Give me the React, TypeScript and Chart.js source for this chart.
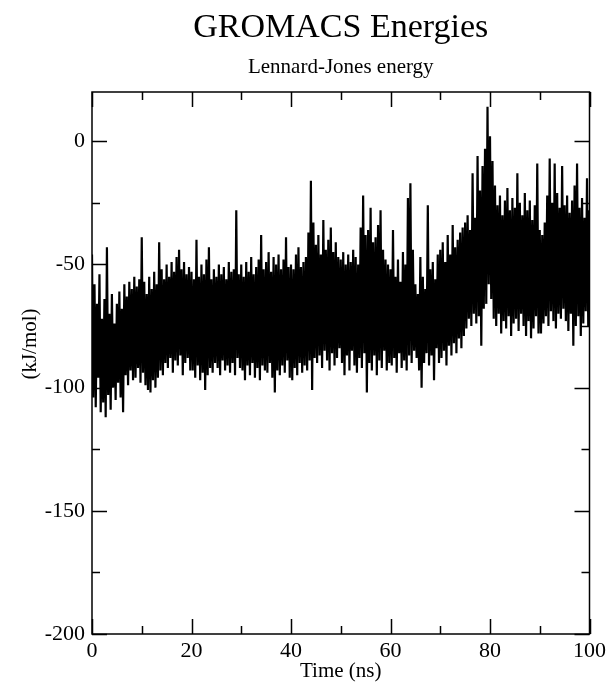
import React, { useEffect, useRef } from "react";
import { Chart, registerables } from "chart.js";

Chart.register(...registerables);

const energy0to20 = [
  -46, -104, -58, -108, -66, -96, -54, -110, -72, -106, -64, -112, -43, -103, -70, -109, -62, -100, -74, -105,
  -66, -98, -61, -104, -68, -110, -58, -95, -63, -99, -57, -93, -60, -97, -55, -96, -59, -92, -56, -98,
  -39, -94, -57, -99, -62, -101, -55, -102, -60, -97, -53, -100, -58, -96, -41, -93, -52, -95, -56, -90,
  -50, -92, -55, -88, -49, -94, -53, -89, -47, -91, -44, -87, -52, -95, -49, -90, -54, -88, -51, -93,
];
const energy20to40 = [
  -53, -93, -56, -96, -40, -91, -55, -97, -50, -94, -54, -101, -48, -95, -43, -92, -56, -94, -52, -90,
  -55, -92, -50, -95, -54, -89, -51, -93, -56, -91, -49, -94, -53, -90, -52, -95, -28, -88, -54, -92,
  -50, -93, -55, -97, -49, -91, -53, -95, -47, -90, -54, -96, -51, -92, -48, -97, -38, -91, -52, -93,
  -49, -94, -45, -90, -53, -96, -47, -102, -50, -93, -46, -95, -52, -91, -48, -94, -39, -89, -51, -96,
];
const energy40to60 = [
  -50, -97, -52, -92, -46, -95, -43, -90, -51, -94, -49, -91, -47, -93, -37, -89, -16, -101, -33, -88,
  -42, -90, -38, -87, -46, -92, -32, -85, -44, -89, -40, -93, -35, -86, -45, -91, -41, -88, -47, -84,
  -48, -90, -45, -95, -50, -87, -46, -93, -49, -85, -44, -91, -47, -94, -50, -88, -35, -92, -22, -86,
  -38, -102, -36, -90, -27, -93, -41, -87, -39, -95, -34, -89, -28, -92, -44, -85, -48, -93, -50, -90,
];
const energy60to80 = [
  -52, -91, -36, -88, -55, -94, -48, -86, -57, -92, -45, -89, -50, -93, -23, -87, -17, -90, -44, -85,
  -58, -88, -62, -93, -47, -100, -55, -90, -60, -86, -26, -91, -52, -87, -49, -97, -56, -84, -46, -90,
  -44, -88, -41, -85, -49, -91, -38, -83, -46, -87, -34, -82, -43, -86, -40, -80, -37, -84, -35, -79,
  -33, -76, -30, -72, -36, -75, -13, -70, -31, -74, -6, -71, -20, -83, -10, -68, -3, -66, 14, -58,
];
const energy80to100 = [
  2, -64, -8, -72, -18, -75, -26, -70, -22, -78, -30, -73, -24, -76, -19, -71, -28, -79, -23, -74,
  -27, -72, -13, -77, -25, -70, -30, -75, -21, -79, -28, -73, -24, -80, -32, -76, -26, -71, -9, -78,
  -36, -78, -38, -74, -33, -71, -22, -75, -7, -69, -25, -73, -9, -76, -21, -70, -27, -72, -10, -68,
  -26, -73, -22, -77, -29, -70, -24, -83, -18, -75, -9, -71, -27, -79, -23, -74, -31, -69, -15, -75, -28,
];

const timeStepNs = 0.25;

const xMajorTicks = [0, 20, 40, 60, 80, 100];
const xMinorTicks = [10, 30, 50, 70, 90];
const yMajorTicks = [-200, -150, -100, -50, 0];
const yMinorTicks = [-175, -125, -75, -25];

const titleText = "GROMACS Energies";
const subtitleText = "Lennard-Jones energy";
const xTitle = "Time (ns)";
const yTitle = "(kJ/mol)";

const FONT = "'Liberation Serif', 'Times New Roman', serif";

const frameTicksPlugin = {
  id: "frameTicks",
  afterDatasetsDraw(chart: any) {
    const { ctx, chartArea, scales } = chart;
    const { left, right, top, bottom } = chartArea;
    const x = scales.x;
    const y = scales.y;
    ctx.save();
    ctx.strokeStyle = "#000";
    ctx.lineWidth = 1.5;
    ctx.strokeRect(left, top, right - left, bottom - top);
    ctx.beginPath();
    const xt = (vals: number[], len: number) => {
      for (const v of vals) {
        const px = Math.round(x.getPixelForValue(v)) + 0.5;
        ctx.moveTo(px, bottom);
        ctx.lineTo(px, bottom - len);
        ctx.moveTo(px, top);
        ctx.lineTo(px, top + len);
      }
    };
    const yt = (vals: number[], len: number) => {
      for (const v of vals) {
        const py = Math.round(y.getPixelForValue(v)) + 0.5;
        ctx.moveTo(left, py);
        ctx.lineTo(left + len, py);
        ctx.moveTo(right, py);
        ctx.lineTo(right - len, py);
      }
    };
    xt(xMajorTicks, 15);
    xt(xMinorTicks, 8);
    yt(yMajorTicks, 15);
    yt(yMinorTicks, 8);
    ctx.stroke();
    ctx.restore();
  },
  afterDraw(chart: any) {
    const { ctx } = chart;
    ctx.save();
    ctx.fillStyle = "#000";
    ctx.font = `21px ${FONT}`;
    ctx.textAlign = "center";
    ctx.textBaseline = "middle";
    ctx.translate(30, 344);
    ctx.rotate(-Math.PI / 2);
    ctx.fillText(yTitle, 0, 0);
    ctx.restore();
  },
};

export default function App() {
  const canvasRef = useRef<HTMLCanvasElement | null>(null);

  useEffect(() => {
    const canvas = canvasRef.current;
    if (!canvas) return;
    const values = [
      ...energy0to20,
      ...energy20to40,
      ...energy40to60,
      ...energy60to80,
      ...energy80to100,
    ];
    const points = values.map((v, i) => ({ x: i * timeStepNs, y: v }));

    const chart = new Chart(canvas, {
      type: "line",
      data: {
        datasets: [
          {
            data: points,
            borderColor: "#000",
            borderWidth: 2.2,
            pointRadius: 0,
            tension: 0,
            fill: false,
          },
        ],
      },
      options: {
        animation: false,
        responsive: false,
        devicePixelRatio: 1,
        layout: { padding: { left: 0, right: 20, top: 0, bottom: 0 } },
        plugins: {
          legend: { display: false },
          tooltip: { enabled: false },
          title: {
            display: true,
            text: titleText,
            color: "#000",
            fullSize: false,
            font: { family: FONT, size: 34, weight: "normal" },
            padding: { top: 8, bottom: 4 },
          },
          subtitle: {
            display: true,
            text: subtitleText,
            color: "#000",
            fullSize: false,
            font: { family: FONT, size: 21, weight: "normal" },
            padding: { top: 2, bottom: 12 },
          },
        },
        scales: {
          x: {
            type: "linear",
            min: 0,
            max: 100,
            afterBuildTicks: (s: any) => {
              s.ticks = xMajorTicks.map((v) => ({ value: v }));
            },
            afterFit: (s: any) => {
              s.height = 50;
            },
            grid: { display: false, drawTicks: false },
            border: { display: false },
            ticks: {
              color: "#000",
              padding: 4,
              maxRotation: 0,
              font: { family: FONT, size: 22 },
            },
            title: {
              display: true,
              text: xTitle,
              color: "#000",
              font: { family: FONT, size: 21 },
              padding: { top: 0, bottom: 0 },
            },
          },
          y: {
            type: "linear",
            min: -200,
            max: 20,
            afterBuildTicks: (s: any) => {
              s.ticks = yMajorTicks.map((v) => ({ value: v }));
            },
            afterFit: (s: any) => {
              s.width = 92;
            },
            grid: { display: false, drawTicks: false },
            border: { display: false },
            ticks: {
              color: "#000",
              padding: 7,
              font: { family: FONT, size: 22 },
            },
          },
        },
      },
      plugins: [frameTicksPlugin],
    });

    return () => chart.destroy();
  }, []);

  return (
    <div style={{ position: "fixed", left: 0, top: 0, width: 610, height: 684, background: "#fff" }}>
      <canvas ref={canvasRef} width={610} height={684} style={{ display: "block" }} />
    </div>
  );
}
